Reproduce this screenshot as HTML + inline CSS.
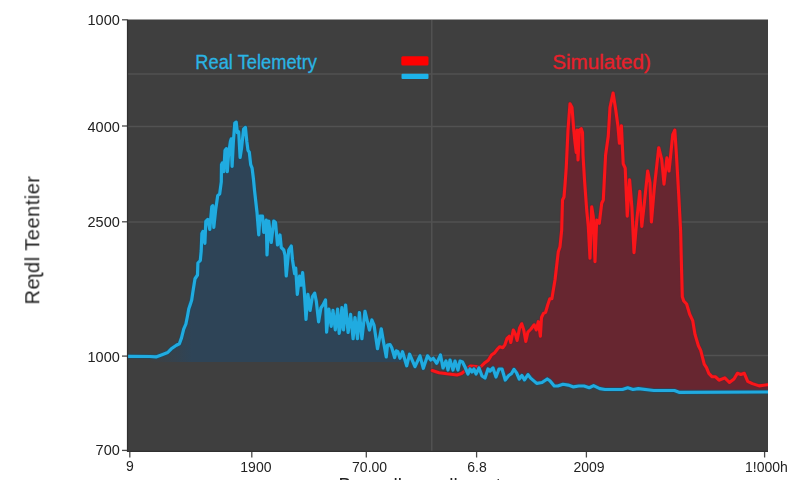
<!DOCTYPE html>
<html><head><meta charset="utf-8"><style>
html,body{margin:0;padding:0;background:#fff;width:800px;height:480px;overflow:hidden}
svg{display:block;filter:blur(0.4px)}
text{font-family:"Liberation Sans",sans-serif}
</style></head><body>
<svg width="800" height="480" viewBox="0 0 800 480">
<defs>
<linearGradient id="bg" x1="150" y1="0" x2="192" y2="0" gradientUnits="userSpaceOnUse">
<stop offset="0" stop-color="#3f3f3f"/>
<stop offset="1" stop-color="#2e4457"/>
</linearGradient>
<clipPath id="pc"><rect x="127" y="20" width="641" height="432"/></clipPath>
</defs>
<rect x="127" y="19.5" width="641" height="432.5" fill="#3f3f3f"/>
<g stroke="#525252" stroke-width="1.5">
<line x1="127" y1="74" x2="768" y2="74"/>
<line x1="127" y1="126.5" x2="768" y2="126.5"/>
<line x1="127" y1="222" x2="768" y2="222"/>
<line x1="127" y1="355.5" x2="768" y2="355.5"/>
<line x1="431.8" y1="20" x2="431.8" y2="452"/>
</g>
<g clip-path="url(#pc)">
<polygon points="127.00,362.00 127.00,356.30 127.25,356.30 127.50,356.30 127.75,356.31 128.00,356.31 128.25,356.31 128.50,356.31 128.75,356.32 129.00,356.32 129.25,356.32 129.50,356.32 129.75,356.32 130.00,356.33 130.25,356.33 130.50,356.33 130.75,356.33 131.00,356.33 131.25,356.34 131.50,356.34 131.75,356.34 132.00,356.34 132.25,356.35 132.50,356.35 132.75,356.35 133.00,356.35 133.25,356.35 133.50,356.36 133.75,356.36 134.00,356.36 134.25,356.36 134.50,356.37 134.75,356.37 135.00,356.37 135.25,356.37 135.50,356.37 135.75,356.38 136.00,356.38 136.25,356.38 136.50,356.38 136.75,356.38 137.00,356.39 137.25,356.39 137.50,356.39 137.75,356.39 138.00,356.40 138.25,356.40 138.50,356.40 138.75,356.40 139.00,356.40 139.25,356.41 139.50,356.41 139.75,356.41 140.00,356.41 140.25,356.42 140.50,356.42 140.75,356.42 141.00,356.42 141.25,356.42 141.50,356.43 141.75,356.43 142.00,356.43 142.25,356.43 142.50,356.43 142.75,356.44 143.00,356.44 143.25,356.44 143.50,356.44 143.75,356.45 144.00,356.45 144.25,356.45 144.50,356.45 144.75,356.45 145.00,356.46 145.25,356.46 145.50,356.46 145.75,356.46 146.00,356.47 146.25,356.47 146.50,356.47 146.75,356.47 147.00,356.47 147.25,356.48 147.50,356.48 147.75,356.48 148.00,356.48 148.25,356.48 148.50,356.49 148.75,356.49 149.00,356.49 149.25,356.49 149.50,356.50 149.75,356.50 150.00,356.50 150.25,356.52 150.50,356.53 150.75,356.55 151.00,356.57 151.25,356.58 151.50,356.60 151.75,356.62 152.00,356.63 152.25,356.65 152.50,356.67 152.75,356.68 153.00,356.70 153.25,356.72 153.50,356.73 153.75,356.75 154.00,356.77 154.25,356.78 154.50,356.80 154.75,356.82 155.00,356.83 155.25,356.85 155.50,356.87 155.75,356.88 156.00,356.90 156.25,356.81 156.50,356.72 156.75,356.62 157.00,356.53 157.25,356.44 157.50,356.35 157.75,356.26 158.00,356.17 158.25,356.07 158.50,355.98 158.75,355.89 159.00,355.80 159.25,355.71 159.50,355.62 159.75,355.52 160.00,355.43 160.25,355.34 160.50,355.25 160.75,355.16 161.00,355.07 161.25,354.97 161.50,354.88 161.75,354.79 162.00,354.70 162.25,354.60 162.50,354.51 162.75,354.41 163.00,354.31 163.25,354.22 163.50,354.12 163.75,354.02 164.00,353.93 164.25,353.83 164.50,353.74 164.75,353.64 165.00,353.54 165.25,353.45 165.50,353.35 165.75,353.25 166.00,353.16 166.25,353.06 166.50,352.96 166.75,352.87 167.00,352.77 167.25,352.67 167.50,352.58 167.75,352.45 168.00,352.19 168.25,351.93 168.50,351.68 168.75,351.42 169.00,351.16 169.25,350.91 169.50,350.65 169.75,350.39 170.00,350.14 170.25,349.88 170.50,349.62 170.75,349.37 171.00,349.11 171.25,348.85 171.50,348.66 171.75,348.48 172.00,348.31 172.25,348.13 172.50,347.95 172.75,347.78 173.00,347.60 173.25,347.42 173.50,347.25 173.75,347.07 174.00,346.89 174.25,346.72 174.50,346.54 174.75,346.36 175.00,346.19 175.25,346.01 175.50,345.84 175.75,345.66 176.00,345.48 176.25,345.31 176.50,345.15 176.75,345.02 177.00,344.90 177.25,344.77 177.50,344.65 177.75,344.52 178.00,344.40 178.25,344.27 178.50,344.15 178.75,344.02 179.00,343.90 179.25,343.77 179.50,343.42 179.75,342.73 180.00,342.04 180.25,341.35 180.50,340.66 180.75,339.97 181.00,339.28 181.25,338.59 181.50,337.90 181.75,336.91 182.00,335.92 182.25,334.93 182.50,333.95 182.75,332.96 183.00,331.97 183.25,330.98 183.50,329.99 183.75,329.08 184.00,328.49 184.25,327.90 184.50,327.31 184.75,326.72 185.00,326.13 185.25,325.54 185.50,324.95 185.75,324.35 186.00,323.50 186.25,322.25 186.50,321.00 186.75,319.75 187.00,318.50 187.25,317.25 187.50,316.00 187.75,314.60 188.00,313.19 188.25,311.79 188.50,310.38 188.75,308.98 189.00,308.13 189.25,307.41 189.50,306.69 189.75,305.98 190.00,305.26 190.25,304.54 190.50,303.77 190.75,302.99 191.00,302.20 191.25,301.41 191.50,300.63 191.75,299.66 192.00,297.95 192.25,296.25 192.50,294.55 192.75,292.84 193.00,291.25 193.25,289.69 193.50,288.13 193.75,286.56 194.00,285.00 194.25,283.44 194.50,281.88 194.75,280.31 195.00,278.75 195.25,278.38 195.50,278.00 195.75,277.62 196.00,277.25 196.25,276.88 196.50,276.50 196.75,276.12 197.00,275.75 197.25,275.38 197.50,275.00 197.75,267.50 198.00,262.90 198.25,262.64 198.50,262.38 198.75,262.11 199.00,261.85 199.25,261.59 199.50,261.33 199.75,261.07 200.00,260.81 200.25,260.55 200.50,258.39 200.75,255.75 201.00,253.11 201.25,249.74 201.50,243.46 201.75,237.17 202.00,233.20 202.25,232.70 202.50,232.20 202.75,231.70 203.00,231.99 203.25,233.48 203.50,234.97 203.75,236.46 204.00,237.94 204.25,239.43 204.50,240.92 204.75,242.41 205.00,240.88 205.25,234.82 205.50,228.77 205.75,222.71 206.00,221.30 206.25,221.05 206.50,220.80 206.75,220.55 207.00,220.30 207.25,220.05 207.50,219.80 207.75,219.55 208.00,220.49 208.25,221.73 208.50,222.96 208.75,224.20 209.00,225.44 209.25,226.68 209.50,227.91 209.75,229.15 210.00,227.12 210.25,224.27 210.50,221.42 210.75,218.57 211.00,215.72 211.25,212.87 211.50,210.02 211.75,207.17 212.00,206.40 212.25,206.15 212.50,205.90 212.75,205.65 213.00,209.96 213.25,215.41 213.50,220.86 213.75,226.31 214.00,225.53 214.25,223.18 214.50,220.84 214.75,218.50 215.00,216.16 215.25,213.82 215.50,211.47 215.75,209.25 216.00,207.51 216.25,205.78 216.50,204.04 216.75,202.30 217.00,200.56 217.25,198.83 217.50,197.09 217.75,195.65 218.00,195.41 218.25,195.18 218.50,194.94 218.75,194.70 219.00,194.47 219.25,194.23 219.50,193.99 219.75,193.43 220.00,191.57 220.25,189.71 220.50,187.85 220.75,185.99 221.00,184.13 221.25,182.27 221.50,164.60 221.75,164.10 222.00,163.60 222.25,163.10 222.50,163.43 222.75,165.00 223.00,166.57 223.25,168.14 223.50,169.71 223.75,171.29 224.00,168.07 224.25,163.65 224.50,159.23 224.75,154.82 225.00,150.40 225.25,150.05 225.50,149.71 225.75,149.36 226.00,149.02 226.25,148.67 226.50,153.20 226.75,158.95 227.00,164.70 227.25,170.45 227.50,168.88 227.75,165.47 228.00,162.07 228.25,158.67 228.50,155.26 228.75,152.87 229.00,151.14 229.25,149.42 229.50,147.70 229.75,145.98 230.00,144.26 230.25,142.53 230.50,141.18 230.75,140.36 231.00,139.55 231.25,140.42 231.50,148.03 231.75,155.64 232.00,163.26 232.25,163.44 232.50,158.67 232.75,153.90 233.00,149.13 233.25,144.36 233.50,140.18 233.75,136.88 234.00,133.57 234.25,130.27 234.50,126.96 234.75,123.66 235.00,122.87 235.25,122.71 235.50,122.55 235.75,122.39 236.00,122.23 236.25,122.54 236.50,124.75 236.75,126.96 237.00,129.17 237.25,131.37 237.50,132.63 237.75,132.46 238.00,132.28 238.25,132.11 238.50,131.94 238.75,132.72 239.00,137.31 239.25,141.90 239.50,146.49 239.75,151.08 240.00,155.66 240.25,156.55 240.50,154.96 240.75,153.37 241.00,151.78 241.25,150.19 241.50,148.60 241.75,146.29 242.00,143.98 242.25,141.67 242.50,139.36 242.75,137.05 243.00,134.74 243.25,132.43 243.50,130.12 243.75,129.05 244.00,128.80 244.25,128.55 244.50,128.30 244.75,128.05 245.00,127.80 245.25,127.55 245.50,128.41 245.75,130.92 246.00,133.44 246.25,135.96 246.50,138.48 246.75,141.00 247.00,142.98 247.25,144.84 247.50,146.69 247.75,148.55 248.00,150.40 248.25,150.75 248.50,151.09 248.75,151.44 249.00,151.78 249.25,152.13 249.50,153.97 249.75,156.19 250.00,158.40 250.25,160.61 250.50,162.83 250.75,164.73 251.00,165.35 251.25,165.98 251.50,166.60 251.75,167.23 252.00,167.85 252.25,169.32 252.50,171.36 252.75,173.40 253.00,175.44 253.25,177.48 253.50,179.73 253.75,182.32 254.00,184.90 254.25,187.48 254.50,190.07 254.75,192.44 255.00,194.67 255.25,196.90 255.50,199.13 255.75,201.35 256.00,203.58 256.25,205.81 256.50,208.04 256.75,210.27 257.00,212.50 257.25,215.71 257.50,218.93 257.75,222.14 258.00,225.36 258.25,228.57 258.50,231.79 258.75,235.00 259.00,231.20 259.25,227.40 259.50,223.60 259.75,219.80 260.00,216.00 260.25,216.00 260.50,216.00 260.75,216.00 261.00,216.00 261.25,216.00 261.50,216.00 261.75,216.00 262.00,216.00 262.25,216.00 262.50,216.00 262.75,219.30 263.00,222.60 263.25,225.90 263.50,229.20 263.75,232.50 264.00,231.25 264.25,230.00 264.50,228.75 264.75,227.50 265.00,226.25 265.25,225.00 265.50,223.75 265.75,222.50 266.00,221.25 266.25,220.00 266.50,231.67 266.75,243.33 267.00,255.00 267.25,250.14 267.50,245.29 267.75,240.43 268.00,235.57 268.25,230.71 268.50,225.86 268.75,221.00 269.00,223.15 269.25,225.30 269.50,227.45 269.75,229.60 270.00,231.75 270.25,233.90 270.50,236.05 270.75,238.20 271.00,240.35 271.25,242.50 271.50,240.35 271.75,238.20 272.00,236.05 272.25,233.90 272.50,231.75 272.75,229.60 273.00,227.45 273.25,225.30 273.50,223.15 273.75,221.00 274.00,221.21 274.25,221.43 274.50,221.64 274.75,221.86 275.00,222.07 275.25,222.29 275.50,222.50 275.75,225.31 276.00,228.12 276.25,230.94 276.50,233.75 276.75,236.56 277.00,239.38 277.25,242.19 277.50,245.00 277.75,244.00 278.00,243.00 278.25,242.00 278.50,241.00 278.75,240.00 279.00,239.00 279.25,238.00 279.50,237.00 279.75,236.00 280.00,235.00 280.25,237.50 280.50,240.00 280.75,242.50 281.00,245.00 281.25,247.50 281.50,247.75 281.75,248.00 282.00,248.25 282.25,248.50 282.50,248.75 282.75,249.00 283.00,249.25 283.25,249.50 283.50,249.75 283.75,250.00 284.00,251.00 284.25,252.00 284.50,253.00 284.75,254.00 285.00,255.00 285.25,259.20 285.50,263.40 285.75,267.60 286.00,271.80 286.25,276.00 286.50,273.40 286.75,270.80 287.00,268.20 287.25,265.60 287.50,263.00 287.75,260.40 288.00,257.80 288.25,255.20 288.50,252.60 288.75,250.00 289.00,249.60 289.25,249.20 289.50,248.80 289.75,248.40 290.00,248.00 290.25,247.60 290.50,247.20 290.75,246.80 291.00,246.40 291.25,246.00 291.50,248.80 291.75,251.60 292.00,254.40 292.25,257.20 292.50,260.00 292.75,261.63 293.00,263.26 293.25,264.89 293.50,266.52 293.75,268.15 294.00,269.79 294.25,271.42 294.50,273.05 294.75,272.92 295.00,271.63 295.25,270.33 295.50,269.04 295.75,268.82 296.00,272.93 296.25,277.04 296.50,281.15 296.75,285.26 297.00,289.37 297.25,293.48 297.50,292.71 297.75,290.72 298.00,288.73 298.25,286.74 298.50,284.75 298.75,282.76 299.00,280.77 299.25,278.78 299.50,276.80 299.75,276.99 300.00,278.63 300.25,280.27 300.50,281.91 300.75,283.56 301.00,285.20 301.25,283.23 301.50,281.26 301.75,279.29 302.00,277.33 302.25,275.36 302.50,273.39 302.75,274.21 303.00,276.90 303.25,279.59 303.50,282.27 303.75,284.96 304.00,287.65 304.25,290.63 304.50,294.75 304.75,298.88 305.00,303.00 305.25,307.13 305.50,311.25 305.75,315.38 306.00,319.50 306.25,316.18 306.50,312.87 306.75,309.55 307.00,306.24 307.25,302.92 307.50,299.61 307.75,296.29 308.00,295.03 308.25,296.86 308.50,298.69 308.75,300.52 309.00,302.35 309.25,304.18 309.50,306.01 309.75,307.84 310.00,309.67 310.25,309.50 310.50,308.00 310.75,306.50 311.00,305.00 311.25,303.50 311.50,302.00 311.75,300.50 312.00,299.00 312.25,297.50 312.50,296.45 312.75,296.08 313.00,295.71 313.25,295.34 313.50,294.97 313.75,294.60 314.00,294.23 314.25,293.87 314.50,293.50 314.75,293.45 315.00,294.70 315.25,295.95 315.50,297.20 315.75,298.45 316.00,299.70 316.25,300.95 316.50,302.99 316.75,305.23 317.00,307.47 317.25,309.71 317.50,311.95 317.75,314.19 318.00,316.43 318.25,318.67 318.50,320.90 318.75,320.90 319.00,319.40 319.25,317.90 319.50,316.40 319.75,314.90 320.00,313.40 320.25,311.90 320.50,310.40 320.75,308.90 321.00,307.86 321.25,307.50 321.50,307.14 321.75,306.78 322.00,306.42 322.25,306.06 322.50,305.70 322.75,305.35 323.00,304.99 323.25,304.60 323.50,304.09 323.75,303.58 324.00,303.07 324.25,302.55 324.50,302.04 324.75,301.53 325.00,301.02 325.25,300.51 325.50,300.00 325.75,307.30 326.00,314.59 326.25,321.89 326.50,329.18 326.75,330.61 327.00,328.12 327.25,325.63 327.50,323.14 327.75,320.65 328.00,318.16 328.25,315.67 328.50,313.18 328.75,310.69 329.00,309.95 329.25,311.82 329.50,313.69 329.75,315.56 330.00,317.43 330.25,319.30 330.50,321.17 330.75,323.03 331.00,324.90 331.25,325.96 331.50,323.73 331.75,321.51 332.00,319.29 332.25,317.07 332.50,314.84 332.75,312.62 333.00,310.40 333.25,312.51 333.50,314.62 333.75,316.73 334.00,318.83 334.25,320.94 334.50,323.05 334.75,325.16 335.00,327.27 335.25,329.38 335.50,328.01 335.75,325.77 336.00,323.53 336.25,321.29 336.50,319.05 336.75,316.81 337.00,314.57 337.25,312.33 337.50,310.10 337.75,311.46 338.00,315.22 338.25,318.99 338.50,322.76 338.75,326.52 339.00,330.29 339.25,333.02 339.50,331.59 339.75,330.17 340.00,328.75 340.25,325.95 340.50,323.16 340.75,320.36 341.00,317.57 341.25,314.77 341.50,311.97 341.75,309.18 342.00,308.91 342.25,312.42 342.50,315.94 342.75,319.45 343.00,322.97 343.25,326.48 343.50,330.00 343.75,327.02 344.00,324.05 344.25,321.07 344.50,318.10 344.75,315.12 345.00,312.14 345.25,309.17 345.50,306.19 345.75,306.65 346.00,309.40 346.25,312.15 346.50,314.90 346.75,317.65 347.00,320.40 347.25,323.15 347.50,325.90 347.75,328.65 348.00,331.40 348.25,331.41 348.50,329.60 348.75,327.79 349.00,325.98 349.25,324.17 349.50,322.36 349.75,320.55 350.00,318.74 350.25,316.93 350.50,315.12 350.75,315.86 351.00,318.30 351.25,320.73 351.50,323.17 351.75,325.60 352.00,328.04 352.25,330.47 352.50,332.91 352.75,335.34 353.00,337.78 353.25,337.07 353.50,334.28 353.75,331.48 354.00,328.68 354.25,325.89 354.50,323.09 354.75,320.30 355.00,317.50 355.25,319.62 355.50,321.75 355.75,323.88 356.00,326.00 356.25,328.12 356.50,330.25 356.75,332.38 357.00,334.50 357.25,336.62 357.50,338.75 357.75,335.30 358.00,331.84 358.25,328.39 358.50,324.93 358.75,321.48 359.00,318.03 359.25,314.57 359.50,313.55 359.75,316.18 360.00,318.80 360.25,321.43 360.50,324.05 360.75,326.68 361.00,329.30 361.25,331.93 361.50,334.55 361.75,337.18 362.00,337.86 362.25,335.65 362.50,333.43 362.75,331.21 363.00,328.99 363.25,326.77 363.50,324.56 363.75,322.34 364.00,320.12 364.25,317.90 364.50,315.69 364.75,313.47 365.00,311.25 365.25,312.32 365.50,313.38 365.75,314.45 366.00,315.51 366.25,316.58 366.50,317.64 366.75,318.71 367.00,319.77 367.25,320.84 367.50,321.90 367.75,322.97 368.00,324.03 368.25,325.10 368.50,326.16 368.75,327.23 369.00,328.30 369.25,329.36 369.50,329.60 369.75,328.60 370.00,327.60 370.25,326.60 370.50,325.60 370.75,324.60 371.00,323.60 371.25,322.60 371.50,321.60 371.75,320.60 372.00,320.24 372.25,320.83 372.50,321.43 372.75,322.02 373.00,322.62 373.25,323.21 373.50,323.81 373.75,324.40 374.00,325.00 374.25,326.70 374.50,328.39 374.75,330.09 375.00,331.79 375.25,333.48 375.50,335.18 375.75,336.88 376.00,338.57 376.25,340.27 376.50,341.96 376.75,343.66 377.00,345.36 377.25,347.05 377.50,348.75 377.75,347.42 378.00,346.08 378.25,344.75 378.50,343.42 378.75,342.08 379.00,340.75 379.25,339.42 379.50,338.08 379.75,336.75 380.00,335.42 380.25,334.08 380.50,332.75 380.75,331.42 381.00,330.08 381.25,328.75 381.50,330.20 381.75,331.66 382.00,333.12 382.25,334.57 382.50,336.02 382.75,337.48 383.00,338.94 383.25,340.39 383.50,341.85 383.75,343.30 384.00,344.67 384.25,346.04 384.50,347.41 384.75,348.78 385.00,350.15 385.25,351.52 385.50,352.89 385.75,354.26 386.00,355.63 386.25,357.00 386.50,354.60 386.75,352.20 387.00,349.80 387.25,347.40 387.50,345.00 387.75,344.96 388.00,344.92 388.25,344.88 388.50,344.84 388.75,344.80 389.00,344.76 389.25,344.72 389.50,344.68 389.75,344.64 390.00,344.60 390.25,345.03 390.50,345.45 390.75,345.88 391.00,346.31 391.25,346.73 391.50,347.16 391.75,347.67 392.00,348.53 392.25,349.40 392.50,350.26 392.75,351.12 393.00,351.98 393.25,352.84 393.50,353.71 393.75,354.57 394.00,355.43 394.25,356.29 394.50,357.16 394.75,356.89 395.00,355.88 395.25,354.86 395.50,353.85 395.75,352.83 396.00,351.82 396.25,350.80 396.50,350.94 396.75,351.07 397.00,351.21 397.25,351.35 397.50,351.48 397.75,351.62 398.00,352.01 398.25,352.80 398.50,353.59 398.75,354.37 399.00,355.16 399.25,355.94 399.50,356.73 399.75,357.51 400.00,358.30 400.25,357.64 400.50,356.98 400.75,356.32 401.00,355.66 401.25,355.00 401.50,354.34 401.75,353.68 402.00,353.02 402.25,352.36 402.50,351.70 402.75,352.54 403.00,353.38 403.25,354.22 403.50,355.06 403.75,355.90 404.00,356.74 404.25,357.57 404.50,358.41 404.75,359.25 405.00,360.09 405.25,360.93 405.50,361.77 405.75,362.00 406.00,362.00 406.25,362.00 406.50,362.00 406.75,362.00 407.00,362.00 407.25,362.00 407.50,362.00 407.75,361.60 408.00,360.60 408.25,359.60 408.50,358.60 408.75,357.60 409.00,356.60 409.25,355.60 409.50,354.60 409.75,354.55 410.00,355.13 410.25,355.70 410.50,356.28 410.75,356.86 411.00,357.44 411.25,358.02 411.50,358.60 411.75,359.18 412.00,359.76 412.25,360.33 412.50,360.91 412.75,361.49 413.00,362.00 413.25,362.00 413.50,362.00 413.75,362.00 414.00,362.00 414.25,362.00 414.50,362.00 414.75,362.00 415.00,362.00 415.25,362.00 415.50,362.00 415.75,362.00 416.00,362.00 416.25,362.00 416.50,362.00 416.75,362.00 417.00,362.00 417.25,361.80 417.50,361.25 417.75,360.70 418.00,360.16 418.25,359.62 418.50,359.07 418.75,358.52 419.00,357.98 419.25,357.44 419.50,356.89 419.75,356.35 420.00,355.80 420.00,362.00" fill="url(#bg)"/>
<polygon points="432.25,359.01 432.50,358.84 432.75,358.67 433.00,358.50 433.25,358.33 433.50,358.59 433.75,358.96 434.00,359.33 434.25,359.70 434.50,360.06 434.75,360.43 435.00,360.80 435.25,361.17 435.50,361.54 435.75,361.90 436.00,362.27 436.25,362.64 436.50,363.01 436.75,363.19 437.00,362.64 437.25,362.10 437.50,361.55 437.75,361.01 438.00,360.46 438.25,359.91 438.50,359.37 438.75,358.82 439.00,358.28 439.25,357.73 439.50,357.18 439.75,356.64 440.00,356.09 440.25,355.55 440.50,355.00 440.75,356.30 441.00,357.60 441.25,358.90 441.50,360.20 441.75,361.50 442.00,362.80 442.25,364.10 442.50,365.40 442.75,366.70 443.00,368.00 443.25,367.42 443.50,366.83 443.75,366.25 444.00,365.67 444.25,365.08 444.50,364.50 444.75,363.92 445.00,363.33 445.25,362.75 445.50,362.17 445.75,361.58 446.00,361.00 446.25,362.12 446.50,363.25 446.75,364.38 447.00,365.50 447.25,366.62 447.50,367.75 447.75,368.88 448.00,370.00 448.25,368.75 448.50,367.50 448.75,366.25 449.00,365.00 449.25,363.75 449.50,362.50 449.75,361.25 450.00,360.00 450.25,360.83 450.50,361.67 450.75,362.50 451.00,363.33 451.25,364.17 451.50,365.00 451.75,365.83 452.00,366.67 452.25,367.50 452.50,368.33 452.75,369.17 453.00,370.00 453.25,368.88 453.50,367.75 453.75,366.62 454.00,365.50 454.25,364.38 454.50,363.25 454.75,362.12 455.00,361.00 455.25,361.75 455.50,362.50 455.75,363.25 456.00,364.00 456.25,364.75 456.50,365.50 456.75,366.25 457.00,367.00 457.25,367.75 457.50,368.50 457.75,369.25 458.00,370.00 458.25,368.88 458.50,367.75 458.75,366.62 459.00,365.50 459.25,364.38 459.50,363.25 459.75,362.12 460.00,361.00 460.25,361.10 460.50,361.20 460.75,361.30 461.00,361.40 461.25,361.50 461.50,361.60 461.75,361.70 462.00,361.80 462.25,361.90 462.50,362.00 462.75,362.50 463.00,363.00 463.25,363.50 463.50,364.00 463.75,364.50 464.00,365.00 464.25,365.50 464.50,366.00 464.75,366.50 465.00,367.00 465.25,367.58 465.50,368.17 465.75,368.75 466.00,369.33 466.25,369.72 466.50,369.50 466.75,369.28 467.00,369.06 467.25,368.84 467.50,368.62 467.75,368.41 468.00,368.19 468.25,367.97 468.50,367.75 468.75,367.53 469.00,367.31 469.25,367.09 469.50,366.88 469.75,366.66 470.00,366.44 470.25,366.22 470.50,366.00 470.75,366.02 471.00,366.05 471.25,366.07 471.50,366.09 471.75,366.11 472.00,366.14 472.25,366.16 472.50,366.18 472.75,366.20 473.00,366.23 473.25,366.25 473.50,366.27 473.75,366.30 474.00,366.32 474.25,366.34 474.50,366.36 474.75,366.39 475.00,366.41 475.25,366.43 475.50,366.45 475.75,366.48 476.00,366.50 476.25,366.56 476.50,366.62 476.75,366.69 477.00,366.75 477.25,366.81 477.50,366.88 477.75,366.94 478.00,367.00 478.25,367.06 478.50,367.12 478.75,367.19 479.00,367.25 479.25,367.31 479.50,367.38 479.75,367.44 480.00,367.50 480.25,367.25 480.50,367.00 480.75,366.75 481.00,366.50 481.25,366.25 481.50,366.00 481.75,365.75 482.00,365.50 482.25,365.25 482.50,365.00 482.75,364.75 483.00,364.50 483.25,364.25 483.50,364.00 483.75,363.75 484.00,363.50 484.25,363.26 484.50,363.07 484.75,362.88 485.00,362.70 485.25,362.51 485.50,362.32 485.75,362.13 486.00,361.94 486.25,361.75 486.50,361.56 486.75,361.37 487.00,361.18 487.25,360.99 487.50,360.80 487.75,360.62 488.00,360.43 488.25,360.24 488.50,359.88 488.75,359.47 489.00,359.06 489.25,358.66 489.50,358.25 489.75,357.84 490.00,357.44 490.25,357.03 490.50,356.62 490.75,356.22 491.00,355.81 491.25,355.41 491.50,355.00 491.75,354.83 492.00,354.66 492.25,354.49 492.50,354.32 492.75,354.15 493.00,353.98 493.25,353.81 493.50,353.65 493.75,353.48 494.00,353.31 494.25,353.14 494.50,352.97 494.75,352.70 495.00,352.36 495.25,352.03 495.50,351.70 495.75,351.36 496.00,351.03 496.25,350.69 496.50,350.36 496.75,350.02 497.00,349.69 497.25,349.35 497.50,349.02 497.75,348.70 498.00,348.46 498.25,348.21 498.50,347.97 498.75,347.73 499.00,347.48 499.25,347.24 499.50,346.99 499.75,346.75 500.00,346.76 500.25,346.85 500.50,346.93 500.75,347.01 501.00,347.09 501.25,347.17 501.50,347.25 501.75,347.33 502.00,347.41 502.25,347.49 502.50,347.57 502.75,347.65 503.00,347.55 503.25,347.18 503.50,346.81 503.75,346.45 504.00,346.08 504.25,345.71 504.50,345.34 504.75,344.97 505.00,344.60 505.25,343.85 505.50,343.10 505.75,342.35 506.00,341.60 506.25,340.85 506.50,340.10 506.75,339.35 507.00,338.60 507.25,338.15 507.50,337.91 507.75,337.67 508.00,337.42 508.25,337.18 508.50,336.93 508.75,336.69 509.00,336.45 509.25,336.45 509.50,337.42 509.75,338.40 510.00,339.38 510.25,340.35 510.50,341.33 510.75,342.30 511.00,341.50 511.25,340.25 511.50,339.00 511.75,337.75 512.00,336.50 512.25,335.25 512.50,334.00 512.75,332.75 513.00,331.50 513.25,330.25 513.50,330.40 513.75,330.90 514.00,331.40 514.25,331.90 514.50,332.40 514.75,332.90 515.00,333.40 515.25,333.90 515.50,334.56 515.75,335.48 516.00,336.39 516.25,337.30 516.50,338.21 516.75,339.12 517.00,340.04 517.25,339.65 517.50,338.40 517.75,337.15 518.00,335.90 518.25,334.65 518.50,333.40 518.75,332.15 519.00,330.90 519.25,329.65 519.50,328.40 519.75,327.60 520.00,327.11 520.25,326.62 520.50,326.12 520.75,325.63 521.00,325.13 521.25,324.64 521.50,324.15 521.75,323.90 522.00,324.66 522.25,325.43 522.50,326.19 522.75,326.95 523.00,327.71 523.25,328.48 523.50,329.24 523.75,330.00 524.00,331.40 524.25,332.80 524.50,334.21 524.75,335.61 525.00,337.01 525.25,338.41 525.50,339.82 525.75,341.22 526.00,340.60 526.25,339.49 526.50,338.37 526.75,337.25 527.00,336.13 527.25,335.01 527.50,333.89 527.75,332.77 528.00,332.00 528.25,331.75 528.50,331.50 528.75,331.25 529.00,331.00 529.25,330.75 529.50,330.50 529.75,330.25 530.00,330.00 530.25,329.75 530.50,329.50 530.75,329.25 531.00,329.00 531.25,328.67 531.50,328.34 531.75,328.02 532.00,327.69 532.25,327.36 532.50,327.03 532.75,326.70 533.00,326.38 533.25,326.05 533.50,325.72 533.75,325.39 534.00,325.06 534.25,324.93 534.50,325.56 534.75,326.20 535.00,326.83 535.25,327.46 535.50,328.10 535.75,328.73 536.00,329.37 536.25,330.00 536.50,328.99 536.75,327.98 537.00,326.96 537.25,325.95 537.50,324.94 537.75,323.93 538.00,322.91 538.25,321.90 538.50,323.09 538.75,324.82 539.00,326.55 539.25,328.28 539.50,330.01 539.75,331.75 540.00,333.48 540.25,335.21 540.50,334.55 540.75,330.28 541.00,326.02 541.25,321.76 541.50,317.50 541.75,316.98 542.00,316.45 542.25,315.93 542.50,315.40 542.75,314.88 543.00,314.35 543.25,313.82 543.50,313.30 543.75,313.18 544.00,313.06 544.25,312.94 544.50,312.82 544.75,312.70 545.00,312.59 545.25,312.47 545.50,312.35 545.75,311.78 546.00,310.91 546.25,310.04 546.50,309.17 546.75,308.30 547.00,307.43 547.25,306.56 547.50,305.70 547.75,304.85 548.00,304.11 548.25,303.36 548.50,302.62 548.75,301.88 549.00,301.13 549.25,300.39 549.50,299.64 549.75,298.90 550.00,298.75 550.25,298.75 550.50,298.75 550.75,298.75 551.00,298.75 551.25,298.75 551.50,298.75 551.75,298.75 552.00,298.12 552.25,296.56 552.50,295.00 552.75,293.44 553.00,291.90 553.25,290.42 553.50,288.93 553.75,287.44 554.00,285.95 554.25,284.46 554.50,282.98 554.75,281.49 555.00,280.00 555.25,277.91 555.50,275.81 555.75,273.72 556.00,271.57 556.25,269.41 556.50,267.25 556.75,265.09 557.00,262.93 557.25,260.77 557.50,258.61 557.75,256.45 558.00,254.29 558.25,252.13 558.50,251.11 558.75,250.38 559.00,249.64 559.25,248.91 559.50,248.17 559.75,247.44 560.00,246.70 560.25,244.24 560.50,241.79 560.75,239.33 561.00,236.88 561.25,234.42 561.50,231.96 561.75,228.13 562.00,218.75 562.25,209.38 562.50,200.00 562.75,199.50 563.00,199.00 563.25,198.50 563.50,198.00 563.75,197.50 564.00,197.00 564.25,194.00 564.50,191.00 564.75,188.00 565.00,185.00 565.25,181.50 565.50,178.00 565.75,174.50 566.00,171.00 566.25,167.50 566.50,162.14 566.75,156.79 567.00,151.43 567.25,146.07 567.50,140.71 567.75,135.36 568.00,130.00 568.25,126.72 568.50,123.44 568.75,120.16 569.00,116.88 569.25,113.59 569.50,110.31 569.75,107.03 570.00,103.75 570.25,104.22 570.50,104.69 570.75,105.16 571.00,105.62 571.25,106.09 571.50,106.56 571.75,107.03 572.00,107.50 572.25,110.71 572.50,113.93 572.75,117.14 573.00,120.36 573.25,123.57 573.50,126.79 573.75,130.00 574.00,132.50 574.25,135.00 574.50,137.50 574.75,140.00 575.00,142.50 575.25,144.50 575.50,146.50 575.75,148.50 576.00,150.50 576.25,152.50 576.50,145.00 576.75,137.50 577.00,130.00 577.25,137.50 577.50,145.00 577.75,152.50 578.00,160.00 578.25,155.00 578.50,150.00 578.75,145.00 579.00,140.00 579.25,135.00 579.50,130.00 579.75,129.82 580.00,129.64 580.25,129.46 580.50,129.29 580.75,129.11 581.00,128.93 581.25,128.75 581.50,129.50 581.75,130.25 582.00,131.00 582.25,131.75 582.50,132.50 582.75,143.75 583.00,155.00 583.25,159.17 583.50,163.33 583.75,167.50 584.00,171.67 584.25,175.83 584.50,180.00 584.75,183.41 585.00,186.82 585.25,190.23 585.50,193.64 585.75,197.05 586.00,200.45 586.25,203.86 586.50,207.27 586.75,210.52 587.00,213.13 587.25,215.74 587.50,218.35 587.75,220.96 588.00,223.57 588.25,226.18 588.50,230.42 588.75,235.06 589.00,239.71 589.25,244.36 589.50,249.01 589.75,253.65 590.00,258.30 590.25,250.71 590.50,243.12 590.75,235.54 591.00,227.95 591.25,220.36 591.50,212.77 591.75,207.01 592.00,208.57 592.25,210.14 592.50,211.70 592.75,213.26 593.00,214.83 593.25,216.39 593.50,221.99 593.75,228.61 594.00,235.23 594.25,241.85 594.50,248.46 594.75,255.08 595.00,261.70 595.25,255.57 595.50,249.44 595.75,243.30 596.00,237.17 596.25,231.04 596.50,224.91 596.75,220.06 597.00,220.38 597.25,220.70 597.50,221.02 597.75,221.33 598.00,221.65 598.25,221.97 598.50,222.28 598.75,222.60 599.00,222.92 599.25,223.24 599.50,221.63 599.75,219.55 600.00,217.47 600.25,215.38 600.50,213.30 600.75,211.22 601.00,209.13 601.25,207.05 601.50,204.97 601.75,203.20 602.00,202.68 602.25,202.17 602.50,201.65 602.75,201.13 603.00,200.62 603.25,200.10 603.50,196.09 603.75,191.20 604.00,186.30 604.25,181.41 604.50,176.52 604.75,171.63 605.00,166.74 605.25,161.85 605.50,156.96 605.75,153.94 606.00,152.17 606.25,150.40 606.50,148.63 606.75,146.86 607.00,145.09 607.25,143.33 607.50,141.56 607.75,139.79 608.00,138.02 608.25,136.25 608.50,132.14 608.75,128.04 609.00,123.93 609.25,119.82 609.50,115.71 609.75,111.61 610.00,107.50 610.25,106.34 610.50,105.18 610.75,104.02 611.00,102.85 611.25,101.69 611.50,100.53 611.75,99.37 612.00,98.21 612.25,97.05 612.50,95.89 612.75,94.73 613.00,93.56 613.25,94.06 613.50,95.65 613.75,97.25 614.00,98.84 614.25,100.43 614.50,102.03 614.75,103.62 615.00,105.22 615.25,106.81 615.50,108.41 615.75,110.00 616.00,111.84 616.25,113.67 616.50,115.51 616.75,117.35 617.00,119.19 617.25,121.02 617.50,122.86 617.75,124.70 618.00,126.97 618.25,129.88 618.50,132.80 618.75,135.72 619.00,138.63 619.25,141.55 619.50,142.42 619.75,140.24 620.00,138.05 620.25,135.86 620.50,133.67 620.75,131.49 621.00,129.30 621.25,127.11 621.50,127.91 621.75,133.18 622.00,138.45 622.25,143.72 622.50,148.99 622.75,154.26 623.00,159.53 623.25,163.86 623.50,164.40 623.75,164.95 624.00,165.49 624.25,166.03 624.50,166.58 624.75,167.12 625.00,167.66 625.25,169.27 625.50,175.15 625.75,181.02 626.00,186.89 626.25,192.76 626.50,198.63 626.75,204.51 627.00,210.38 627.25,216.25 627.50,212.37 627.75,208.49 628.00,204.62 628.25,200.74 628.50,196.86 628.75,192.98 629.00,189.11 629.25,185.23 629.50,181.35 629.75,181.61 630.00,184.62 630.25,187.63 630.50,190.64 630.75,193.65 631.00,196.66 631.25,199.67 631.50,202.68 631.75,205.69 632.00,209.65 632.25,215.02 632.50,220.39 632.75,225.75 633.00,231.12 633.25,236.49 633.50,241.86 633.75,247.23 634.00,252.60 634.25,249.71 634.50,246.82 634.75,243.94 635.00,241.05 635.25,238.16 635.50,235.27 635.75,232.38 636.00,229.50 636.25,226.61 636.50,223.72 636.75,220.83 637.00,218.14 637.25,215.76 637.50,213.37 637.75,210.98 638.00,208.59 638.25,206.21 638.50,203.82 638.75,201.43 639.00,199.04 639.25,196.65 639.50,194.27 639.75,191.88 640.00,194.90 640.25,199.28 640.50,203.65 640.75,208.03 641.00,212.40 641.25,216.78 641.50,221.15 641.75,225.53 642.00,224.58 642.25,222.31 642.50,220.04 642.75,217.77 643.00,215.50 643.25,213.23 643.50,210.96 643.75,208.69 644.00,206.42 644.25,204.12 644.50,201.72 644.75,199.32 645.00,196.92 645.25,194.52 645.50,192.12 645.75,189.72 646.00,187.32 646.25,184.92 646.50,182.52 646.75,180.12 647.00,177.72 647.25,175.32 647.50,172.92 647.75,171.25 648.00,172.53 648.25,173.80 648.50,175.07 648.75,176.34 649.00,177.61 649.25,178.88 649.50,180.16 649.75,181.43 650.00,182.70 650.25,189.72 650.50,196.74 650.75,203.75 651.00,210.77 651.25,217.79 651.50,220.83 651.75,217.92 652.00,215.00 652.25,212.08 652.50,209.17 652.75,206.25 653.00,203.33 653.25,200.42 653.50,197.50 653.75,194.58 654.00,191.67 654.25,188.75 654.50,186.10 654.75,183.84 655.00,181.58 655.25,179.32 655.50,177.06 655.75,174.80 656.00,172.54 656.25,170.29 656.50,168.03 656.75,165.77 657.00,163.51 657.25,161.25 657.50,158.99 657.75,156.73 658.00,154.48 658.25,152.22 658.50,149.96 658.75,147.70 659.00,148.69 659.25,149.68 659.50,150.67 659.75,151.67 660.00,152.66 660.25,153.65 660.50,154.64 660.75,155.63 661.00,156.62 661.25,157.62 661.50,158.61 661.75,159.94 662.00,162.63 662.25,165.33 662.50,168.03 662.75,170.72 663.00,173.42 663.25,176.11 663.50,178.81 663.75,181.50 664.00,184.20 664.25,181.93 664.50,179.67 664.75,177.40 665.00,175.13 665.25,172.86 665.50,170.60 665.75,168.33 666.00,166.06 666.25,163.79 666.50,161.53 666.75,159.26 667.00,158.52 667.25,160.08 667.50,161.64 667.75,163.20 668.00,164.76 668.25,166.32 668.50,167.88 668.75,169.44 669.00,171.00 669.25,168.66 669.50,166.32 669.75,163.98 670.00,161.64 670.25,159.30 670.50,156.91 670.75,154.43 671.00,151.95 671.25,149.47 671.50,146.99 671.75,144.51 672.00,142.04 672.25,139.56 672.50,137.08 672.75,134.60 673.00,134.06 673.25,133.53 673.50,132.99 673.75,132.45 674.00,131.92 674.25,131.38 674.50,130.84 674.75,130.31 675.00,133.21 675.25,136.97 675.50,140.72 675.75,144.48 676.00,148.24 676.25,152.00 676.50,156.35 676.75,160.70 677.00,165.05 677.25,169.40 677.50,173.76 677.75,178.11 678.00,182.46 678.25,186.81 678.50,191.16 678.75,195.74 679.00,200.48 679.25,205.22 679.50,209.95 679.75,214.69 680.00,219.43 680.25,224.17 680.50,228.90 680.75,236.92 681.00,247.11 681.25,257.31 681.50,267.50 681.75,276.63 682.00,285.75 682.25,294.88 682.50,297.29 682.75,298.03 683.00,298.78 683.25,299.52 683.50,300.26 683.75,301.00 684.00,301.26 684.25,301.53 684.50,301.79 684.75,302.05 685.00,302.32 685.25,302.58 685.50,302.84 685.75,303.11 686.00,303.37 686.25,303.63 686.50,303.89 686.75,304.50 687.00,305.33 687.25,306.17 687.50,307.00 687.75,307.83 688.00,308.67 688.25,309.50 688.50,310.33 688.75,311.17 689.00,312.00 689.25,312.83 689.50,313.67 689.75,314.32 690.00,314.85 690.25,315.38 690.50,315.92 690.75,316.45 691.00,316.98 691.25,317.51 691.50,318.05 691.75,318.58 692.00,319.11 692.25,319.64 692.50,320.17 692.75,320.90 693.00,322.40 693.25,323.90 693.50,325.40 693.75,326.90 694.00,328.40 694.25,329.90 694.50,331.40 694.75,332.90 695.00,334.40 695.25,335.24 695.50,336.08 695.75,336.91 696.00,337.75 696.25,338.59 696.50,339.43 696.75,340.27 697.00,341.11 697.25,341.94 697.50,342.78 697.75,343.62 698.00,344.46 698.25,345.30 698.50,346.00 698.75,346.50 699.00,347.00 699.25,347.50 699.50,348.00 699.75,348.50 700.00,349.00 700.25,349.50 700.50,350.00 700.75,350.60 701.00,351.58 701.25,352.57 701.50,353.55 701.75,354.54 702.00,355.53 702.25,356.51 702.50,357.50 702.75,358.48 703.00,359.47 703.25,360.45 703.50,361.44 703.75,362.43 704.00,363.41 704.25,364.27 704.50,364.64 704.75,365.01 705.00,365.38 705.25,365.75 705.50,366.12 705.75,366.49 706.00,366.86 706.25,367.23 706.50,367.60 706.75,368.23 707.00,368.87 707.25,369.50 707.50,370.13 707.75,370.77 708.00,371.40 708.25,372.03 708.50,372.67 708.75,373.30 709.00,373.55 709.25,373.81 709.50,374.06 709.75,374.31 710.00,374.57 710.25,374.82 710.50,375.08 710.75,375.33 711.00,375.58 711.25,375.84 711.50,376.09 711.75,376.34 712.00,376.60 712.25,376.80 712.50,376.80 712.75,376.80 713.00,376.80 713.25,376.80 713.50,376.80 713.75,376.80 714.00,376.80 714.25,376.80 714.50,376.80 714.75,376.80 715.00,376.80 715.25,376.80 715.50,376.80 715.75,376.95 716.00,377.20 716.25,377.45 716.50,377.70 716.75,377.95 717.00,378.20 717.25,378.45 717.50,378.70 717.75,378.95 718.00,379.20 718.25,379.45 718.50,379.70 718.75,379.95 719.00,380.20 719.25,380.10 719.50,380.00 719.75,379.90 720.00,379.80 720.25,379.70 720.50,379.61 720.75,379.51 721.00,379.41 721.25,379.31 721.50,379.21 721.75,379.11 722.00,379.01 722.25,378.91 722.50,378.81 722.75,378.71 723.00,378.61 723.25,378.51 723.50,378.42 723.75,378.32 724.00,378.22 724.25,378.12 724.50,378.02 724.75,377.92 725.00,378.10 725.25,378.35 725.50,378.60 725.75,378.85 726.00,379.10 726.25,379.35 726.50,379.60 726.75,379.85 727.00,380.10 727.25,380.35 727.50,380.60 727.75,380.85 728.00,381.10 728.25,381.35 728.50,381.60 728.75,381.85 729.00,382.10 729.25,382.35 729.50,382.42 729.75,382.23 730.00,382.04 730.25,381.85 730.50,381.66 730.75,381.47 731.00,381.28 731.25,381.09 731.50,380.90 731.75,380.71 732.00,380.52 732.25,380.33 732.50,380.14 732.75,379.95 733.00,379.76 733.25,379.57 733.50,379.38 733.75,379.19 734.00,379.00 734.25,378.58 734.50,378.16 734.75,377.74 735.00,377.32 735.25,376.90 735.50,376.49 735.75,376.07 736.00,375.65 736.25,375.23 736.50,374.81 736.75,374.39 737.00,373.97 737.25,373.55 737.50,373.34 737.75,373.42 738.00,373.51 738.25,373.60 738.50,373.69 738.75,373.78 739.00,373.86 739.25,373.95 739.50,374.04 739.75,374.13 740.00,374.22 740.25,374.31 740.50,374.39 740.75,374.48 741.00,374.43 741.25,374.35 741.50,374.26 741.75,374.17 742.00,374.09 742.25,374.00 742.50,373.92 742.75,373.83 743.00,373.75 743.25,373.66 743.50,373.57 743.75,373.49 744.00,373.40 744.25,373.32 744.50,373.77 744.75,374.36 745.00,374.95 745.25,375.54 745.50,376.12 745.75,376.71 746.00,377.30 746.25,377.89 746.50,378.48 746.75,379.06 747.00,379.65 747.25,380.24 747.50,380.83 747.75,381.32 748.00,381.45 748.25,381.57 748.50,381.70 748.75,381.82 749.00,381.95 749.25,382.07 749.50,382.20 749.75,382.32 750.00,382.45 750.25,382.58 750.50,382.70 750.75,382.83 751.00,382.95 751.25,383.08 751.50,383.20 751.75,383.33 752.00,383.45 752.25,383.58 752.50,383.67 752.75,383.75 753.00,383.83 753.25,383.92 753.50,384.00 753.75,384.08 754.00,384.17 754.25,384.25 754.50,384.33 754.75,384.42 755.00,384.50 755.25,384.58 755.50,384.67 755.75,384.75 756.00,384.83 756.25,384.92 756.50,385.00 756.75,385.08 757.00,385.17 757.25,385.25 757.50,385.33 757.75,385.42 758.00,385.50 758.25,385.58 758.50,385.67 758.75,385.75 759.00,385.83 759.25,385.89 759.50,385.86 759.75,385.83 760.00,385.79 760.25,385.76 760.50,385.73 760.75,385.69 761.00,385.66 761.25,385.63 761.50,385.60 761.75,385.56 762.00,385.53 762.25,385.50 762.50,385.46 762.75,385.43 763.00,385.40 763.25,385.36 763.50,385.33 763.75,385.30 764.00,385.26 764.25,385.23 764.50,385.20 764.75,385.16 765.00,385.13 765.25,385.10 765.50,385.07 765.75,385.03 766.00,385.00 766.25,384.97 766.50,384.93 766.75,384.90 767.00,384.87 767.25,384.83 767.50,384.80 767.75,384.80 768.00,384.80 768.00,392.00 767.75,392.00 767.50,392.00 767.25,392.00 767.00,392.00 766.75,392.00 766.50,392.00 766.25,392.00 766.00,392.01 765.75,392.01 765.50,392.01 765.25,392.01 765.00,392.01 764.75,392.01 764.50,392.01 764.25,392.01 764.00,392.01 763.75,392.01 763.50,392.01 763.25,392.01 763.00,392.02 762.75,392.02 762.50,392.02 762.25,392.02 762.00,392.02 761.75,392.02 761.50,392.02 761.25,392.02 761.00,392.02 760.75,392.02 760.50,392.02 760.25,392.02 760.00,392.03 759.75,392.03 759.50,392.03 759.25,392.03 759.00,392.03 758.75,392.03 758.50,392.03 758.25,392.03 758.00,392.03 757.75,392.03 757.50,392.03 757.25,392.03 757.00,392.04 756.75,392.04 756.50,392.04 756.25,392.04 756.00,392.04 755.75,392.04 755.50,392.04 755.25,392.04 755.00,392.04 754.75,392.04 754.50,392.04 754.25,392.04 754.00,392.05 753.75,392.05 753.50,392.05 753.25,392.05 753.00,392.05 752.75,392.05 752.50,392.05 752.25,392.05 752.00,392.05 751.75,392.05 751.50,392.05 751.25,392.06 751.00,392.06 750.75,392.06 750.50,392.06 750.25,392.06 750.00,392.06 749.75,392.06 749.50,392.06 749.25,392.06 749.00,392.06 748.75,392.06 748.50,392.06 748.25,392.07 748.00,392.07 747.75,392.07 747.50,392.07 747.25,392.07 747.00,392.07 746.75,392.07 746.50,392.07 746.25,392.07 746.00,392.07 745.75,392.07 745.50,392.07 745.25,392.08 745.00,392.08 744.75,392.08 744.50,392.08 744.25,392.08 744.00,392.08 743.75,392.08 743.50,392.08 743.25,392.08 743.00,392.08 742.75,392.08 742.50,392.08 742.25,392.09 742.00,392.09 741.75,392.09 741.50,392.09 741.25,392.09 741.00,392.09 740.75,392.09 740.50,392.09 740.25,392.09 740.00,392.09 739.75,392.09 739.50,392.09 739.25,392.10 739.00,392.10 738.75,392.10 738.50,392.10 738.25,392.10 738.00,392.10 737.75,392.10 737.50,392.10 737.25,392.10 737.00,392.10 736.75,392.10 736.50,392.11 736.25,392.11 736.00,392.11 735.75,392.11 735.50,392.11 735.25,392.11 735.00,392.11 734.75,392.11 734.50,392.11 734.25,392.11 734.00,392.11 733.75,392.11 733.50,392.12 733.25,392.12 733.00,392.12 732.75,392.12 732.50,392.12 732.25,392.12 732.00,392.12 731.75,392.12 731.50,392.12 731.25,392.12 731.00,392.12 730.75,392.12 730.50,392.13 730.25,392.13 730.00,392.13 729.75,392.13 729.50,392.13 729.25,392.13 729.00,392.13 728.75,392.13 728.50,392.13 728.25,392.13 728.00,392.13 727.75,392.13 727.50,392.14 727.25,392.14 727.00,392.14 726.75,392.14 726.50,392.14 726.25,392.14 726.00,392.14 725.75,392.14 725.50,392.14 725.25,392.14 725.00,392.14 724.75,392.14 724.50,392.15 724.25,392.15 724.00,392.15 723.75,392.15 723.50,392.15 723.25,392.15 723.00,392.15 722.75,392.15 722.50,392.15 722.25,392.15 722.00,392.15 721.75,392.16 721.50,392.16 721.25,392.16 721.00,392.16 720.75,392.16 720.50,392.16 720.25,392.16 720.00,392.16 719.75,392.16 719.50,392.16 719.25,392.16 719.00,392.16 718.75,392.17 718.50,392.17 718.25,392.17 718.00,392.17 717.75,392.17 717.50,392.17 717.25,392.17 717.00,392.17 716.75,392.17 716.50,392.17 716.25,392.17 716.00,392.17 715.75,392.18 715.50,392.18 715.25,392.18 715.00,392.18 714.75,392.18 714.50,392.18 714.25,392.18 714.00,392.18 713.75,392.18 713.50,392.18 713.25,392.18 713.00,392.18 712.75,392.19 712.50,392.19 712.25,392.19 712.00,392.19 711.75,392.19 711.50,392.19 711.25,392.19 711.00,392.19 710.75,392.19 710.50,392.19 710.25,392.19 710.00,392.19 709.75,392.20 709.50,392.20 709.25,392.20 709.00,392.20 708.75,392.20 708.50,392.20 708.25,392.20 708.00,392.20 707.75,392.20 707.50,392.20 707.25,392.20 707.00,392.21 706.75,392.21 706.50,392.21 706.25,392.21 706.00,392.21 705.75,392.21 705.50,392.21 705.25,392.21 705.00,392.21 704.75,392.21 704.50,392.21 704.25,392.21 704.00,392.22 703.75,392.22 703.50,392.22 703.25,392.22 703.00,392.22 702.75,392.22 702.50,392.22 702.25,392.22 702.00,392.22 701.75,392.22 701.50,392.22 701.25,392.22 701.00,392.23 700.75,392.23 700.50,392.23 700.25,392.23 700.00,392.23 699.75,392.23 699.50,392.23 699.25,392.23 699.00,392.23 698.75,392.23 698.50,392.23 698.25,392.23 698.00,392.24 697.75,392.24 697.50,392.24 697.25,392.24 697.00,392.24 696.75,392.24 696.50,392.24 696.25,392.24 696.00,392.24 695.75,392.24 695.50,392.24 695.25,392.24 695.00,392.25 694.75,392.25 694.50,392.25 694.25,392.25 694.00,392.25 693.75,392.25 693.50,392.25 693.25,392.25 693.00,392.25 692.75,392.25 692.50,392.25 692.25,392.26 692.00,392.26 691.75,392.26 691.50,392.26 691.25,392.26 691.00,392.26 690.75,392.26 690.50,392.26 690.25,392.26 690.00,392.26 689.75,392.26 689.50,392.26 689.25,392.27 689.00,392.27 688.75,392.27 688.50,392.27 688.25,392.27 688.00,392.27 687.75,392.27 687.50,392.27 687.25,392.27 687.00,392.27 686.75,392.27 686.50,392.27 686.25,392.28 686.00,392.28 685.75,392.28 685.50,392.28 685.25,392.28 685.00,392.28 684.75,392.28 684.50,392.28 684.25,392.28 684.00,392.28 683.75,392.28 683.50,392.28 683.25,392.29 683.00,392.29 682.75,392.29 682.50,392.29 682.25,392.29 682.00,392.29 681.75,392.29 681.50,392.29 681.25,392.29 681.00,392.29 680.75,392.29 680.50,392.29 680.25,392.30 680.00,392.30 679.75,392.30 679.50,392.30 679.25,392.30 679.00,392.30 678.75,392.20 678.50,392.10 678.25,392.01 678.00,391.91 677.75,391.81 677.50,391.71 677.25,391.62 677.00,391.52 676.75,391.42 676.50,391.32 676.25,391.22 676.00,391.13 675.75,391.03 675.50,390.93 675.25,390.83 675.00,390.73 674.75,390.64 674.50,390.54 674.25,390.50 674.00,390.50 673.75,390.50 673.50,390.50 673.25,390.50 673.00,390.50 672.75,390.50 672.50,390.50 672.25,390.50 672.00,390.50 671.75,390.50 671.50,390.50 671.25,390.50 671.00,390.50 670.75,390.50 670.50,390.50 670.25,390.50 670.00,390.50 669.75,390.50 669.50,390.50 669.25,390.50 669.00,390.50 668.75,390.50 668.50,390.50 668.25,390.50 668.00,390.50 667.75,390.50 667.50,390.50 667.25,390.50 667.00,390.50 666.75,390.50 666.50,390.50 666.25,390.50 666.00,390.50 665.75,390.50 665.50,390.50 665.25,390.50 665.00,390.50 664.75,390.50 664.50,390.50 664.25,390.50 664.00,390.50 663.75,390.50 663.50,390.50 663.25,390.50 663.00,390.50 662.75,390.50 662.50,390.50 662.25,390.50 662.00,390.50 661.75,390.50 661.50,390.50 661.25,390.50 661.00,390.50 660.75,390.50 660.50,390.50 660.25,390.50 660.00,390.50 659.75,390.50 659.50,390.50 659.25,390.50 659.00,390.50 658.75,390.50 658.50,390.50 658.25,390.50 658.00,390.50 657.75,390.50 657.50,390.50 657.25,390.50 657.00,390.50 656.75,390.50 656.50,390.50 656.25,390.50 656.00,390.50 655.75,390.50 655.50,390.50 655.25,390.50 655.00,390.50 654.75,390.50 654.50,390.50 654.25,390.50 654.00,390.50 653.75,390.50 653.50,390.47 653.25,390.44 653.00,390.41 652.75,390.38 652.50,390.35 652.25,390.32 652.00,390.29 651.75,390.25 651.50,390.22 651.25,390.19 651.00,390.16 650.75,390.13 650.50,390.10 650.25,390.07 650.00,390.04 649.75,390.01 649.50,389.98 649.25,389.95 649.00,389.92 648.75,389.89 648.50,389.86 648.25,389.83 648.00,389.80 647.75,389.76 647.50,389.73 647.25,389.70 647.00,389.67 646.75,389.64 646.50,389.61 646.25,389.58 646.00,389.55 645.75,389.52 645.50,389.49 645.25,389.46 645.00,389.43 644.75,389.40 644.50,389.37 644.25,389.34 644.00,389.30 643.75,389.27 643.50,389.24 643.25,389.21 643.00,389.18 642.75,389.15 642.50,389.12 642.25,389.09 642.00,389.06 641.75,389.03 641.50,389.00 641.25,388.97 641.00,388.94 640.75,388.91 640.50,388.88 640.25,388.85 640.00,388.81 639.75,388.78 639.50,388.75 639.25,388.72 639.00,388.69 638.75,388.66 638.50,388.63 638.25,388.60 638.00,388.64 637.75,388.69 637.50,388.73 637.25,388.77 637.00,388.81 636.75,388.86 636.50,388.90 636.25,388.94 636.00,388.99 635.75,389.03 635.50,389.07 635.25,389.11 635.00,389.16 634.75,389.20 634.50,389.24 634.25,389.29 634.00,389.33 633.75,389.37 633.50,389.41 633.25,389.46 633.00,389.50 632.75,389.42 632.50,389.33 632.25,389.25 632.00,389.17 631.75,389.08 631.50,389.00 631.25,388.92 631.00,388.83 630.75,388.75 630.50,388.67 630.25,388.58 630.00,388.50 629.75,388.42 629.50,388.33 629.25,388.25 629.00,388.17 628.75,388.08 628.50,388.00 628.25,387.92 628.00,387.83 627.75,387.75 627.50,387.83 627.25,387.92 627.00,388.00 626.75,388.08 626.50,388.17 626.25,388.25 626.00,388.33 625.75,388.42 625.50,388.50 625.25,388.58 625.00,388.67 624.75,388.75 624.50,388.83 624.25,388.92 624.00,389.00 623.75,389.08 623.50,389.17 623.25,389.25 623.00,389.33 622.75,389.42 622.50,389.50 622.25,389.50 622.00,389.50 621.75,389.50 621.50,389.50 621.25,389.50 621.00,389.50 620.75,389.50 620.50,389.50 620.25,389.50 620.00,389.50 619.75,389.50 619.50,389.50 619.25,389.50 619.00,389.50 618.75,389.50 618.50,389.50 618.25,389.50 618.00,389.50 617.75,389.50 617.50,389.50 617.25,389.50 617.00,389.50 616.75,389.50 616.50,389.50 616.25,389.50 616.00,389.50 615.75,389.50 615.50,389.50 615.25,389.50 615.00,389.50 614.75,389.50 614.50,389.50 614.25,389.50 614.00,389.50 613.75,389.50 613.50,389.50 613.25,389.50 613.00,389.50 612.75,389.50 612.50,389.50 612.25,389.50 612.00,389.50 611.75,389.50 611.50,389.50 611.25,389.50 611.00,389.50 610.75,389.50 610.50,389.50 610.25,389.50 610.00,389.50 609.75,389.50 609.50,389.50 609.25,389.50 609.00,389.50 608.75,389.50 608.50,389.50 608.25,389.50 608.00,389.50 607.75,389.50 607.50,389.50 607.25,389.50 607.00,389.50 606.75,389.50 606.50,389.50 606.25,389.50 606.00,389.50 605.75,389.50 605.50,389.50 605.25,389.50 605.00,389.50 604.75,389.46 604.50,389.41 604.25,389.37 604.00,389.33 603.75,389.29 603.50,389.24 603.25,389.20 603.00,389.16 602.75,389.11 602.50,389.07 602.25,389.03 602.00,388.99 601.75,388.94 601.50,388.90 601.25,388.86 601.00,388.81 600.75,388.77 600.50,388.73 600.25,388.69 600.00,388.64 599.75,388.60 599.50,388.48 599.25,388.36 599.00,388.24 598.75,388.12 598.50,388.00 598.25,387.88 598.00,387.76 597.75,387.64 597.50,387.52 597.25,387.40 597.00,387.28 596.75,387.16 596.50,387.04 596.25,386.92 596.00,386.80 595.75,386.68 595.50,386.56 595.25,386.44 595.00,386.32 594.75,386.20 594.50,386.08 594.25,385.96 594.00,385.84 593.75,385.72 593.50,385.70 593.25,385.82 593.00,385.94 592.75,386.06 592.50,386.18 592.25,386.30 592.00,386.42 591.75,386.54 591.50,386.66 591.25,386.78 591.00,386.91 590.75,387.03 590.50,387.15 590.25,387.27 590.00,387.39 589.75,387.51 589.50,387.63 589.25,387.75 589.00,387.67 588.75,387.58 588.50,387.50 588.25,387.42 588.00,387.33 587.75,387.25 587.50,387.17 587.25,387.08 587.00,387.00 586.75,386.92 586.50,386.83 586.25,386.75 586.00,386.67 585.75,386.58 585.50,386.50 585.25,386.42 585.00,386.33 584.75,386.25 584.50,386.17 584.25,386.08 584.00,386.00 583.75,386.00 583.50,386.00 583.25,386.00 583.00,386.00 582.75,386.00 582.50,386.00 582.25,386.00 582.00,386.00 581.75,386.00 581.50,386.00 581.25,386.00 581.00,386.00 580.75,386.00 580.50,386.00 580.25,386.00 580.00,386.00 579.75,386.00 579.50,386.00 579.25,386.00 579.00,386.00 578.75,386.00 578.50,386.04 578.25,386.09 578.00,386.13 577.75,386.17 577.50,386.21 577.25,386.26 577.00,386.30 576.75,386.34 576.50,386.39 576.25,386.43 576.00,386.47 575.75,386.51 575.50,386.56 575.25,386.60 575.00,386.64 574.75,386.69 574.50,386.73 574.25,386.77 574.00,386.81 573.75,386.86 573.50,386.90 573.25,386.81 573.00,386.73 572.75,386.64 572.50,386.56 572.25,386.47 572.00,386.39 571.75,386.30 571.50,386.21 571.25,386.13 571.00,386.04 570.75,385.96 570.50,385.87 570.25,385.79 570.00,385.70 569.75,385.61 569.50,385.53 569.25,385.44 569.00,385.36 568.75,385.27 568.50,385.19 568.25,385.10 568.00,385.06 567.75,385.02 567.50,384.98 567.25,384.94 567.00,384.90 566.75,384.86 566.50,384.82 566.25,384.78 566.00,384.74 565.75,384.70 565.50,384.65 565.25,384.61 565.00,384.57 564.75,384.53 564.50,384.49 564.25,384.45 564.00,384.41 563.75,384.37 563.50,384.33 563.25,384.29 563.00,384.25 562.75,384.33 562.50,384.42 562.25,384.50 562.00,384.58 561.75,384.67 561.50,384.75 561.25,384.83 561.00,384.92 560.75,385.00 560.50,385.08 560.25,385.17 560.00,385.25 559.75,385.33 559.50,385.42 559.25,385.50 559.00,385.58 558.75,385.67 558.50,385.75 558.25,385.83 558.00,385.92 557.75,386.00 557.50,386.00 557.25,386.00 557.00,386.00 556.75,386.00 556.50,386.00 556.25,386.00 556.00,386.00 555.75,386.00 555.50,386.00 555.25,386.00 555.00,386.00 554.75,386.00 554.50,386.00 554.25,386.00 554.00,385.70 553.75,385.40 553.50,385.09 553.25,384.79 553.00,384.49 552.75,384.19 552.50,383.89 552.25,383.59 552.00,383.28 551.75,382.98 551.50,382.68 551.25,382.38 551.00,382.08 550.75,381.78 550.50,381.47 550.25,381.17 550.00,380.87 549.75,380.65 549.50,380.49 549.25,380.32 549.00,380.16 548.75,379.99 548.50,379.83 548.25,379.66 548.00,379.50 547.75,379.33 547.50,379.17 547.25,379.00 547.00,379.17 546.75,379.33 546.50,379.50 546.25,379.67 546.00,379.83 545.75,380.00 545.50,380.17 545.25,380.33 545.00,380.50 544.75,380.67 544.50,380.83 544.25,381.00 544.00,381.17 543.75,381.33 543.50,381.50 543.25,381.67 543.00,381.83 542.75,382.00 542.50,382.17 542.25,382.33 542.00,382.50 541.75,382.54 541.50,382.59 541.25,382.63 541.00,382.67 540.75,382.71 540.50,382.76 540.25,382.80 540.00,382.84 539.75,382.89 539.50,382.93 539.25,382.97 539.00,383.01 538.75,383.06 538.50,383.10 538.25,383.14 538.00,383.19 537.75,383.23 537.50,383.27 537.25,383.31 537.00,383.36 536.75,383.40 536.50,383.18 536.25,382.97 536.00,382.75 535.75,382.54 535.50,382.32 535.25,382.11 535.00,381.89 534.75,381.68 534.50,381.46 534.25,381.25 534.00,381.03 533.75,380.81 533.50,380.60 533.25,380.38 533.00,380.17 532.75,379.95 532.50,379.74 532.25,379.52 532.00,379.31 531.75,379.09 531.50,378.88 531.25,378.66 531.00,378.44 530.75,378.23 530.50,377.97 530.25,377.63 530.00,377.29 529.75,376.96 529.50,376.62 529.25,376.28 529.00,375.95 528.75,375.61 528.50,375.27 528.25,374.94 528.00,374.60 527.75,374.98 527.50,375.36 527.25,375.74 527.00,376.11 526.75,376.49 526.50,376.87 526.25,377.25 526.00,377.63 525.75,378.01 525.50,378.39 525.25,378.76 525.00,379.14 524.75,379.52 524.50,379.90 524.25,379.48 524.00,379.05 523.75,378.63 523.50,378.21 523.25,377.78 523.00,377.36 522.75,376.94 522.50,376.52 522.25,376.09 522.00,375.67 521.75,375.70 521.50,376.03 521.25,376.36 521.00,376.69 520.75,377.02 520.50,377.35 520.25,377.68 520.00,378.01 519.75,378.34 519.50,378.67 519.25,379.00 519.00,378.42 518.75,377.85 518.50,377.27 518.25,376.70 518.00,376.12 517.75,375.55 517.50,374.97 517.25,374.40 517.00,373.82 516.75,373.25 516.50,372.77 516.25,372.43 516.00,372.09 515.75,371.76 515.50,371.42 515.25,371.08 515.00,370.75 514.75,370.41 514.50,370.07 514.25,369.74 514.00,369.40 513.75,369.82 513.50,370.24 513.25,370.65 513.00,371.07 512.75,371.49 512.50,371.91 512.25,372.33 512.00,372.75 511.75,373.16 511.50,373.58 511.25,373.85 511.00,374.01 510.75,374.18 510.50,374.34 510.25,374.51 510.00,374.67 509.75,374.84 509.50,375.00 509.25,375.17 509.00,375.33 508.75,375.50 508.50,375.82 508.25,376.14 508.00,376.46 507.75,376.79 507.50,377.11 507.25,377.43 507.00,377.75 506.75,378.07 506.50,378.39 506.25,378.71 506.00,379.04 505.75,379.36 505.50,379.68 505.25,380.00 505.00,379.15 504.75,378.31 504.50,377.46 504.25,376.62 504.00,375.77 503.75,374.92 503.50,374.08 503.25,373.23 503.00,372.38 502.75,371.54 502.50,370.69 502.25,369.85 502.00,369.00 501.75,369.00 501.50,369.00 501.25,369.00 501.00,369.00 500.75,369.00 500.50,369.00 500.25,369.00 500.00,369.00 499.75,369.00 499.50,369.00 499.25,369.00 499.00,369.00 498.75,369.67 498.50,370.33 498.25,371.00 498.00,371.67 497.75,372.33 497.50,373.00 497.25,373.67 497.00,374.33 496.75,375.00 496.50,375.67 496.25,376.33 496.00,377.00 495.75,376.25 495.50,375.50 495.25,374.75 495.00,374.00 494.75,373.25 494.50,372.50 494.25,371.75 494.00,371.00 493.75,370.25 493.50,369.50 493.25,368.75 493.00,368.00 492.75,368.25 492.50,368.50 492.25,368.75 492.00,369.00 491.75,369.25 491.50,369.50 491.25,369.75 491.00,370.00 490.75,370.25 490.50,370.50 490.25,370.75 490.00,371.00 489.75,370.75 489.50,370.50 489.25,370.25 489.00,370.00 488.75,369.75 488.50,369.50 488.25,369.25 488.00,369.00 487.75,369.75 487.50,370.50 487.25,371.25 487.00,372.00 486.75,372.75 486.50,373.50 486.25,374.25 486.00,375.00 485.75,375.75 485.50,376.50 485.25,377.25 485.00,378.00 484.75,377.83 484.50,377.67 484.25,377.50 484.00,377.33 483.75,377.17 483.50,377.00 483.25,376.83 483.00,376.67 482.75,376.50 482.50,376.33 482.25,376.17 482.00,376.00 481.75,375.33 481.50,374.67 481.25,374.00 481.00,373.33 480.75,372.67 480.50,372.00 480.25,371.33 480.00,370.67 479.75,370.00 479.50,369.33 479.25,368.67 479.00,368.00 478.75,368.50 478.50,369.00 478.25,369.50 478.00,370.00 477.75,370.50 477.50,371.00 477.25,371.50 477.00,372.00 476.75,372.50 476.50,373.00 476.25,373.50 476.00,374.00 475.75,373.38 475.50,372.75 475.25,372.12 475.00,371.50 474.75,370.88 474.50,370.25 474.25,369.62 474.00,369.00 473.75,369.38 473.50,369.75 473.25,370.12 473.00,370.50 472.75,370.88 472.50,371.25 472.25,371.62 472.00,372.00 471.75,371.62 471.50,371.25 471.25,370.88 471.00,370.50 470.75,370.12 470.50,369.75 470.25,369.38 470.00,369.00 469.75,369.62 469.50,370.25 469.25,370.88 469.00,371.50 468.75,372.12 468.50,372.75 468.25,373.38 468.00,374.00 467.75,373.42 467.50,372.83 467.25,372.25 467.00,371.67 466.75,371.08 466.50,370.50 466.25,369.92 466.00,369.33 465.75,368.75 465.50,368.17 465.25,367.58 465.00,367.00 464.75,366.50 464.50,366.00 464.25,365.50 464.00,365.00 463.75,364.50 463.50,364.00 463.25,363.50 463.00,363.00 462.75,362.50 462.50,362.00 462.25,361.90 462.00,361.80 461.75,361.70 461.50,361.60 461.25,361.50 461.00,361.40 460.75,361.30 460.50,361.20 460.25,361.10 460.00,361.00 459.75,362.12 459.50,363.25 459.25,364.38 459.00,365.50 458.75,366.62 458.50,367.75 458.25,368.88 458.00,370.00 457.75,369.25 457.50,368.50 457.25,367.75 457.00,367.00 456.75,366.25 456.50,365.50 456.25,364.75 456.00,364.00 455.75,363.25 455.50,362.50 455.25,361.75 455.00,361.00 454.75,362.12 454.50,363.25 454.25,364.38 454.00,365.50 453.75,366.62 453.50,367.75 453.25,368.88 453.00,370.00 452.75,369.17 452.50,368.33 452.25,367.50 452.00,366.67 451.75,365.83 451.50,365.00 451.25,364.17 451.00,363.33 450.75,362.50 450.50,361.67 450.25,360.83 450.00,360.00 449.75,361.25 449.50,362.50 449.25,363.75 449.00,365.00 448.75,366.25 448.50,367.50 448.25,368.75 448.00,370.00 447.75,368.88 447.50,367.75 447.25,366.62 447.00,365.50 446.75,364.38 446.50,363.25 446.25,362.12 446.00,361.00 445.75,361.58 445.50,362.17 445.25,362.75 445.00,363.33 444.75,363.92 444.50,364.50 444.25,365.08 444.00,365.67 443.75,366.25 443.50,366.83 443.25,367.42 443.00,368.00 442.75,366.70 442.50,365.40 442.25,364.10 442.00,362.80 441.75,361.50 441.50,360.20 441.25,358.90 441.00,357.60 440.75,356.30 440.50,355.00 440.25,355.55 440.00,356.09 439.75,356.64 439.50,357.18 439.25,357.73 439.00,358.28 438.75,358.82 438.50,359.37 438.25,359.91 438.00,360.46 437.75,361.01 437.50,361.55 437.25,362.10 437.00,362.64 436.75,363.19 436.50,363.01 436.25,362.64 436.00,362.27 435.75,361.90 435.50,361.54 435.25,361.17 435.00,360.80 434.75,360.43 434.50,360.06 434.25,359.70 434.00,359.33 433.75,358.96 433.50,358.59 433.25,358.33 433.00,358.50 432.75,358.67 432.50,358.84 432.25,359.01" fill="#672630"/>
<polyline points="432.25,370.50 439.00,372.75 445.00,373.50 451.00,374.25 457.00,375.00 461.50,373.50 464.50,371.25 470.50,366.00 476.00,366.50 480.00,367.50 484.20,363.30 488.30,360.20 491.50,355.00 494.60,352.90 497.70,348.75 499.80,346.70 502.90,347.70 505.00,344.60 507.10,338.30 509.20,336.25 510.80,342.50 513.30,330.00 515.40,334.20 517.10,340.40 519.60,327.90 521.70,323.75 523.75,330.00 525.80,341.50 527.90,332.10 531.00,329.00 534.20,324.80 536.25,330.00 538.30,321.70 540.40,336.25 541.50,317.50 543.50,313.30 545.60,312.30 547.70,305.00 549.80,298.75 551.90,298.75 552.90,292.50 555.00,280.00 555.80,273.30 558.30,251.70 560.00,246.70 561.70,230.00 562.50,200.00 564.00,197.00 565.00,185.00 566.25,167.50 568.00,130.00 570.00,103.75 572.00,107.50 573.75,130.00 575.00,142.50 576.25,152.50 577.00,130.00 578.00,160.00 579.50,130.00 581.25,128.75 582.50,132.50 583.00,155.00 584.50,180.00 586.70,210.00 588.30,226.70 590.00,258.30 591.70,206.70 593.30,216.70 595.00,261.70 596.70,220.00 599.30,223.30 601.70,203.30 603.30,200.00 605.60,155.00 608.25,136.25 610.00,107.50 613.10,93.10 615.75,110.00 617.90,125.80 619.40,143.30 621.40,125.80 623.20,163.75 625.20,168.10 627.25,216.25 629.60,179.80 631.90,207.50 634.00,252.60 636.90,219.10 639.80,191.40 641.80,226.40 644.20,204.60 647.70,171.00 650.00,182.70 651.40,222.00 654.40,187.00 658.75,147.70 661.70,159.40 664.00,184.20 666.90,157.90 669.00,171.00 670.40,157.90 672.75,134.60 674.80,130.20 676.25,152.00 678.60,192.90 680.60,230.80 681.50,267.50 682.30,296.70 683.75,301.00 686.60,304.00 689.60,314.00 692.70,320.60 695.00,334.40 698.40,345.80 700.70,350.40 704.20,364.20 706.50,367.60 708.75,373.30 712.20,376.80 715.60,376.80 719.00,380.20 724.80,377.90 729.40,382.50 734.00,379.00 737.40,373.30 740.80,374.50 744.30,373.30 747.70,381.30 752.30,383.60 759.20,385.90 767.50,384.80" fill="none" stroke="#6a2230" stroke-width="4.6" stroke-linejoin="round" stroke-linecap="round" opacity="0.6"/>
<polyline points="432.25,370.50 439.00,372.75 445.00,373.50 451.00,374.25 457.00,375.00 461.50,373.50 464.50,371.25 470.50,366.00 476.00,366.50 480.00,367.50 484.20,363.30 488.30,360.20 491.50,355.00 494.60,352.90 497.70,348.75 499.80,346.70 502.90,347.70 505.00,344.60 507.10,338.30 509.20,336.25 510.80,342.50 513.30,330.00 515.40,334.20 517.10,340.40 519.60,327.90 521.70,323.75 523.75,330.00 525.80,341.50 527.90,332.10 531.00,329.00 534.20,324.80 536.25,330.00 538.30,321.70 540.40,336.25 541.50,317.50 543.50,313.30 545.60,312.30 547.70,305.00 549.80,298.75 551.90,298.75 552.90,292.50 555.00,280.00 555.80,273.30 558.30,251.70 560.00,246.70 561.70,230.00 562.50,200.00 564.00,197.00 565.00,185.00 566.25,167.50 568.00,130.00 570.00,103.75 572.00,107.50 573.75,130.00 575.00,142.50 576.25,152.50 577.00,130.00 578.00,160.00 579.50,130.00 581.25,128.75 582.50,132.50 583.00,155.00 584.50,180.00 586.70,210.00 588.30,226.70 590.00,258.30 591.70,206.70 593.30,216.70 595.00,261.70 596.70,220.00 599.30,223.30 601.70,203.30 603.30,200.00 605.60,155.00 608.25,136.25 610.00,107.50 613.10,93.10 615.75,110.00 617.90,125.80 619.40,143.30 621.40,125.80 623.20,163.75 625.20,168.10 627.25,216.25 629.60,179.80 631.90,207.50 634.00,252.60 636.90,219.10 639.80,191.40 641.80,226.40 644.20,204.60 647.70,171.00 650.00,182.70 651.40,222.00 654.40,187.00 658.75,147.70 661.70,159.40 664.00,184.20 666.90,157.90 669.00,171.00 670.40,157.90 672.75,134.60 674.80,130.20 676.25,152.00 678.60,192.90 680.60,230.80 681.50,267.50 682.30,296.70 683.75,301.00 686.60,304.00 689.60,314.00 692.70,320.60 695.00,334.40 698.40,345.80 700.70,350.40 704.20,364.20 706.50,367.60 708.75,373.30 712.20,376.80 715.60,376.80 719.00,380.20 724.80,377.90 729.40,382.50 734.00,379.00 737.40,373.30 740.80,374.50 744.30,373.30 747.70,381.30 752.30,383.60 759.20,385.90 767.50,384.80" fill="none" stroke="#fa1519" stroke-width="3.1" stroke-linejoin="round" stroke-linecap="round"/>
<polyline points="127.00,356.30 150.00,356.50 156.00,356.90 162.00,354.70 167.70,352.50 171.30,348.80 176.40,345.20 179.40,343.70 181.50,337.90 183.70,329.20 185.90,324.00 187.50,316.00 188.80,308.70 190.30,304.40 191.70,300.00 192.80,292.50 195.00,278.75 197.50,275.00 197.90,263.00 200.30,260.50 201.20,251.00 201.90,233.40 202.90,231.40 204.90,243.30 205.80,221.50 207.80,219.50 209.80,229.40 211.80,206.60 212.80,205.60 213.80,227.40 215.70,209.60 217.70,195.70 219.70,193.80 221.30,181.90 221.50,164.60 222.40,162.80 223.80,171.60 225.00,150.40 226.30,148.60 227.30,171.60 228.60,153.90 230.40,141.50 231.20,138.90 232.10,166.30 233.40,141.50 234.80,123.00 236.20,122.10 237.40,132.70 238.70,131.80 240.10,157.50 241.50,148.60 243.60,129.20 245.40,127.40 246.80,141.50 248.00,150.40 249.30,152.20 250.70,164.60 252.10,168.10 253.40,178.70 254.60,191.10 257.00,212.50 258.75,235.00 260.00,216.00 262.50,216.00 263.75,232.50 266.25,220.00 267.00,255.00 268.75,221.00 271.25,242.50 273.75,221.00 275.50,222.50 277.50,245.00 280.00,235.00 281.25,247.50 283.75,250.00 285.00,255.00 286.25,276.00 288.75,250.00 291.25,246.00 292.50,260.00 294.60,273.70 295.70,268.00 297.30,294.30 299.60,276.00 301.00,285.20 302.60,272.60 304.20,289.80 306.00,319.50 307.90,294.30 310.10,310.40 312.40,296.60 314.70,293.20 316.30,301.20 318.60,321.80 320.90,308.00 323.20,304.70 325.50,300.00 326.60,332.10 328.90,309.20 331.20,326.40 333.00,310.40 335.30,329.80 337.60,309.20 339.20,333.30 340.00,328.75 341.90,307.50 343.50,330.00 345.60,305.00 348.10,332.50 350.60,314.40 353.10,338.75 355.00,317.50 357.50,338.75 359.40,312.50 361.90,338.75 365.00,311.25 369.40,330.00 371.90,320.00 374.00,325.00 377.50,348.75 381.25,328.75 383.75,343.30 386.25,357.00 387.50,345.00 390.00,344.60 391.70,347.50 394.60,357.50 396.25,350.80 397.90,351.70 400.00,358.30 402.50,351.70 406.70,365.80 409.60,354.20 415.00,366.70 420.00,355.80 423.30,368.30 427.50,355.80 430.80,360.00 433.30,358.30 436.70,363.30 440.50,355.00 443.00,368.00 446.00,361.00 448.00,370.00 450.00,360.00 453.00,370.00 455.00,361.00 458.00,370.00 460.00,361.00 462.50,362.00 465.00,367.00 468.00,374.00 470.00,369.00 472.00,372.00 474.00,369.00 476.00,374.00 479.00,368.00 482.00,376.00 485.00,378.00 488.00,369.00 490.00,371.00 493.00,368.00 496.00,377.00 499.00,369.00 502.00,369.00 505.25,380.00 508.75,375.50 511.40,373.75 514.00,369.40 516.60,372.90 519.25,379.00 521.90,375.50 524.50,379.90 528.00,374.60 530.60,378.10 536.75,383.40 542.00,382.50 547.25,379.00 549.90,380.75 554.25,386.00 557.75,386.00 563.00,384.25 568.25,385.10 573.50,386.90 578.75,386.00 584.00,386.00 589.25,387.75 593.60,385.65 599.75,388.60 605.00,389.50 613.75,389.50 622.50,389.50 627.75,387.75 633.00,389.50 638.25,388.60 653.75,390.50 674.40,390.50 679.00,392.30 767.50,392.00" fill="none" stroke="#1c4a62" stroke-width="5" stroke-linejoin="round" stroke-linecap="round" opacity="0.7"/>
<polyline points="127.00,356.30 150.00,356.50 156.00,356.90 162.00,354.70 167.70,352.50 171.30,348.80 176.40,345.20 179.40,343.70 181.50,337.90 183.70,329.20 185.90,324.00 187.50,316.00 188.80,308.70 190.30,304.40 191.70,300.00 192.80,292.50 195.00,278.75 197.50,275.00 197.90,263.00 200.30,260.50 201.20,251.00 201.90,233.40 202.90,231.40 204.90,243.30 205.80,221.50 207.80,219.50 209.80,229.40 211.80,206.60 212.80,205.60 213.80,227.40 215.70,209.60 217.70,195.70 219.70,193.80 221.30,181.90 221.50,164.60 222.40,162.80 223.80,171.60 225.00,150.40 226.30,148.60 227.30,171.60 228.60,153.90 230.40,141.50 231.20,138.90 232.10,166.30 233.40,141.50 234.80,123.00 236.20,122.10 237.40,132.70 238.70,131.80 240.10,157.50 241.50,148.60 243.60,129.20 245.40,127.40 246.80,141.50 248.00,150.40 249.30,152.20 250.70,164.60 252.10,168.10 253.40,178.70 254.60,191.10 257.00,212.50 258.75,235.00 260.00,216.00 262.50,216.00 263.75,232.50 266.25,220.00 267.00,255.00 268.75,221.00 271.25,242.50 273.75,221.00 275.50,222.50 277.50,245.00 280.00,235.00 281.25,247.50 283.75,250.00 285.00,255.00 286.25,276.00 288.75,250.00 291.25,246.00 292.50,260.00 294.60,273.70 295.70,268.00 297.30,294.30 299.60,276.00 301.00,285.20 302.60,272.60 304.20,289.80 306.00,319.50 307.90,294.30 310.10,310.40 312.40,296.60 314.70,293.20 316.30,301.20 318.60,321.80 320.90,308.00 323.20,304.70 325.50,300.00 326.60,332.10 328.90,309.20 331.20,326.40 333.00,310.40 335.30,329.80 337.60,309.20 339.20,333.30 340.00,328.75 341.90,307.50 343.50,330.00 345.60,305.00 348.10,332.50 350.60,314.40 353.10,338.75 355.00,317.50 357.50,338.75 359.40,312.50 361.90,338.75 365.00,311.25 369.40,330.00 371.90,320.00 374.00,325.00 377.50,348.75 381.25,328.75 383.75,343.30 386.25,357.00 387.50,345.00 390.00,344.60 391.70,347.50 394.60,357.50 396.25,350.80 397.90,351.70 400.00,358.30 402.50,351.70 406.70,365.80 409.60,354.20 415.00,366.70 420.00,355.80 423.30,368.30 427.50,355.80 430.80,360.00 433.30,358.30 436.70,363.30 440.50,355.00 443.00,368.00 446.00,361.00 448.00,370.00 450.00,360.00 453.00,370.00 455.00,361.00 458.00,370.00 460.00,361.00 462.50,362.00 465.00,367.00 468.00,374.00 470.00,369.00 472.00,372.00 474.00,369.00 476.00,374.00 479.00,368.00 482.00,376.00 485.00,378.00 488.00,369.00 490.00,371.00 493.00,368.00 496.00,377.00 499.00,369.00 502.00,369.00 505.25,380.00 508.75,375.50 511.40,373.75 514.00,369.40 516.60,372.90 519.25,379.00 521.90,375.50 524.50,379.90 528.00,374.60 530.60,378.10 536.75,383.40 542.00,382.50 547.25,379.00 549.90,380.75 554.25,386.00 557.75,386.00 563.00,384.25 568.25,385.10 573.50,386.90 578.75,386.00 584.00,386.00 589.25,387.75 593.60,385.65 599.75,388.60 605.00,389.50 613.75,389.50 622.50,389.50 627.75,387.75 633.00,389.50 638.25,388.60 653.75,390.50 674.40,390.50 679.00,392.30 767.50,392.00" fill="none" stroke="#20abe0" stroke-width="3.2" stroke-linejoin="round" stroke-linecap="round"/>
</g>
<rect x="401.3" y="56.3" width="27.2" height="9.3" rx="1.5" fill="#ff0000"/>
<rect x="401.5" y="73.8" width="27" height="5.2" rx="1" fill="#1db3ea"/>
<text transform="translate(195.3,68.8) scale(0.915,1)" font-size="20" fill="#2ab4e4" stroke="#2ab4e4" stroke-width="0.3">Real Telemetry</text>
<text transform="translate(552.3,69) scale(1.03,1)" font-size="20" fill="#e8202b" stroke="#e8202b" stroke-width="0.3">Simulated)</text>
<line x1="127.5" y1="19.5" x2="127.5" y2="452" stroke="#303030" stroke-width="1.2"/>
<line x1="127" y1="451.4" x2="768" y2="451.4" stroke="#303030" stroke-width="1.2"/>
<g stroke="#4a4a4a" stroke-width="1.3">
<line x1="122" y1="19.8" x2="127" y2="19.8"/>
<line x1="122" y1="126" x2="127" y2="126"/>
<line x1="122" y1="221.8" x2="127" y2="221.8"/>
<line x1="122" y1="356.1" x2="127" y2="356.1"/>
<line x1="122" y1="450.4" x2="127" y2="450.4"/>
<line x1="129.8" y1="452" x2="129.8" y2="457.5"/>
<line x1="251.8" y1="452" x2="251.8" y2="457.5"/>
<line x1="366.3" y1="452" x2="366.3" y2="457.5"/>
<line x1="476.6" y1="452" x2="476.6" y2="457.5"/>
<line x1="586.4" y1="452" x2="586.4" y2="457.5"/>
<line x1="764.6" y1="452" x2="764.6" y2="457.5"/>
</g>
<g font-size="14.5" fill="#222" text-anchor="end">
<text x="119.8" y="25">1000</text>
<text x="119.8" y="131.5">4000</text>
<text x="119.8" y="226.9">2500</text>
<text x="119.8" y="361.6">1000</text>
<text x="119.8" y="454.6">700</text>
</g>
<g font-size="14" fill="#222" text-anchor="middle">
<text x="130" y="471.3">9</text>
<text x="255.9" y="471.5">1900</text>
<text x="369.6" y="471.5">70.00</text>
<text x="477" y="471.5">6.8</text>
<text x="589" y="471.5">2009</text>
<text x="766.5" y="471.5">1!000h</text>
</g>
<text x="338.5" y="491" font-size="19" fill="#222">Bros all arc all ore to sensor</text>
<text transform="translate(39.3,304.5) rotate(-90)" font-size="20" letter-spacing="0.5" fill="#222">Re&#x285;dl Teentier</text>
</svg>
</body></html>
